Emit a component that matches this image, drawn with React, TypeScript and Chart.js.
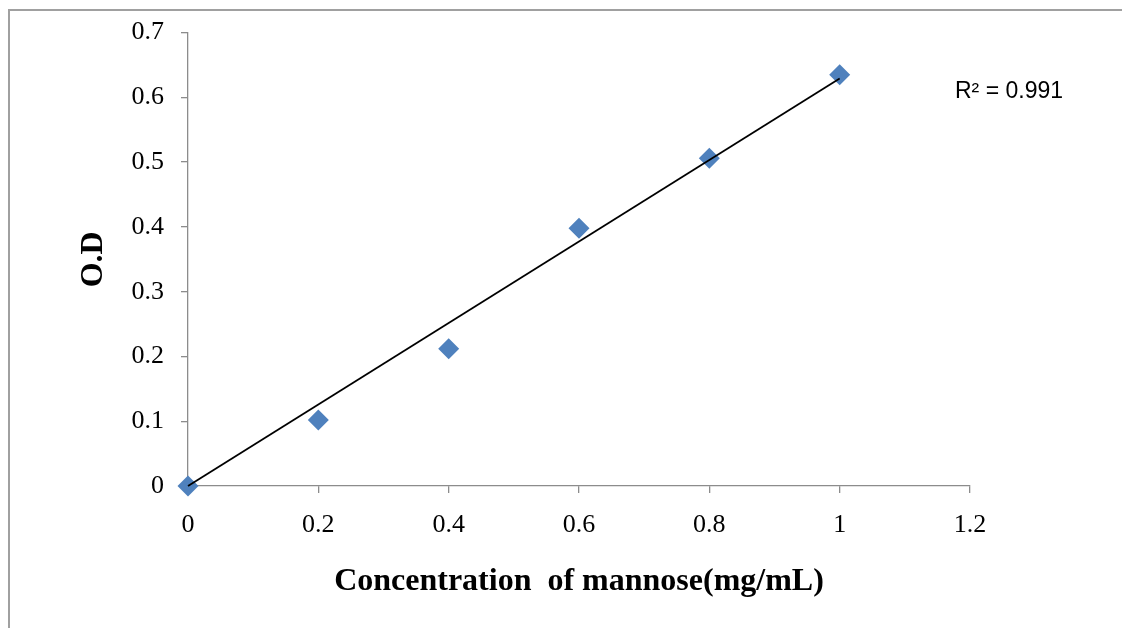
import React, { useEffect, useRef } from 'react';
import { Chart, registerables } from 'chart.js';

Chart.register(...registerables);

// ---- data ----
const concentration = [0, 0.2, 0.4, 0.6, 0.8, 1];
const absorbance = [0, 0.102, 0.212, 0.398, 0.506, 0.635];
const xTickValues = [0, 0.2, 0.4, 0.6, 0.8, 1, 1.2];
const yTickValues = [0, 0.1, 0.2, 0.3, 0.4, 0.5, 0.6, 0.7];
const xTitle = 'Concentration  of mannose(mg/mL)';
const yTitle = 'O.D';
const rSquaredLabel = 'R² = 0.991';

// linear trendline forced through the origin (least squares)
const sumXY = concentration.reduce((s, x, i) => s + x * absorbance[i], 0);
const sumXX = concentration.reduce((s, x) => s + x * x, 0);
const slope = sumXY / sumXX;
const xMaxData = Math.max(...concentration);
const trendPoints = [
  { x: 0, y: 0 },
  { x: xMaxData, y: slope * xMaxData },
];

const serif = '"Liberation Serif", "Times New Roman", serif';

const pagePlugin = {
  id: 'pageDecor',
  afterDraw(chart: any) {
    const { ctx, width, height } = chart;
    ctx.save();
    ctx.strokeStyle = '#a0a0a0';
    ctx.lineWidth = 2;
    ctx.beginPath();
    ctx.moveTo(9, height);
    ctx.lineTo(9, 10);
    ctx.lineTo(width, 10);
    ctx.stroke();
    ctx.fillStyle = '#000';
    ctx.font = '23px "Liberation Sans", Arial, sans-serif';
    ctx.textAlign = 'left';
    ctx.textBaseline = 'alphabetic';
    ctx.fillText(rSquaredLabel, 955, 98);
    ctx.restore();
  },
};

export default function App() {
  const ref = useRef<HTMLCanvasElement | null>(null);
  useEffect(() => {
    if (!ref.current) return;
    const axisColor = '#8c8c8c';
    const chart = new Chart(ref.current, {
      type: 'scatter',
      data: {
        datasets: [
          {
            type: 'line',
            label: 'Trendline',
            data: trendPoints,
            borderColor: '#000000',
            borderWidth: 1.8,
            pointRadius: 0,
            fill: false,
            clip: false,
          } as any,
          {
            label: 'O.D',
            data: concentration.map((x, i) => ({ x, y: absorbance[i] })),
            backgroundColor: '#4F81BD',
            borderColor: '#4F81BD',
            borderWidth: 0,
            pointStyle: 'rectRot',
            pointRadius: 10.5,
            clip: false,
          } as any,
        ],
      },
      options: {
        responsive: false,
        animation: false,
        devicePixelRatio: 1,
        layout: { padding: { left: 75, top: 31, right: 152, bottom: 10 } },
        plugins: { legend: { display: false }, tooltip: { enabled: false } },
        scales: {
          x: {
            type: 'linear',
            min: 0,
            max: 1.2,
            afterBuildTicks: (scale: any) => {
              scale.ticks = xTickValues.map((v) => ({ value: v }));
            },
            afterFit: (scale: any) => {
              scale.height = 132;
            },
            ticks: {
              callback: (v: any) => String(v),
              font: { family: serif, size: 26 },
              color: '#000',
              padding: 17,
              maxRotation: 0,
              autoSkip: false,
            },
            grid: { drawOnChartArea: false, drawTicks: true, tickLength: 7, color: axisColor, lineWidth: 1.3 },
            border: { display: true, color: axisColor, width: 1.3 },
            title: {
              display: true,
              text: xTitle,
              font: { family: serif, size: 32, weight: 'bold' },
              color: '#000',
              padding: { top: 0, bottom: 17 },
            },
          },
          y: {
            type: 'linear',
            min: 0,
            max: 0.7,
            afterBuildTicks: (scale: any) => {
              scale.ticks = yTickValues.map((v) => ({ value: v }));
            },
            afterFit: (scale: any) => {
              scale.width = 113;
            },
            ticks: {
              callback: (v: any) => String(v),
              font: { family: serif, size: 26 },
              color: '#000',
              padding: 17,
              autoSkip: false,
            },
            grid: { drawOnChartArea: false, drawTicks: true, tickLength: 7, color: axisColor, lineWidth: 1.3 },
            border: { display: true, color: axisColor, width: 1.3 },
            title: {
              display: true,
              text: yTitle,
              font: { family: serif, size: 32, weight: 'bold' },
              color: '#000',
              padding: { top: 0, bottom: 0 },
            },
          },
        },
      } as any,
      plugins: [pagePlugin],
    });
    return () => chart.destroy();
  }, []);
  return (
    <canvas
      ref={ref}
      width={1122}
      height={628}
      style={{ position: 'absolute', left: 0, top: 0, display: 'block', width: 1122, height: 628 }}
    />
  );
}
